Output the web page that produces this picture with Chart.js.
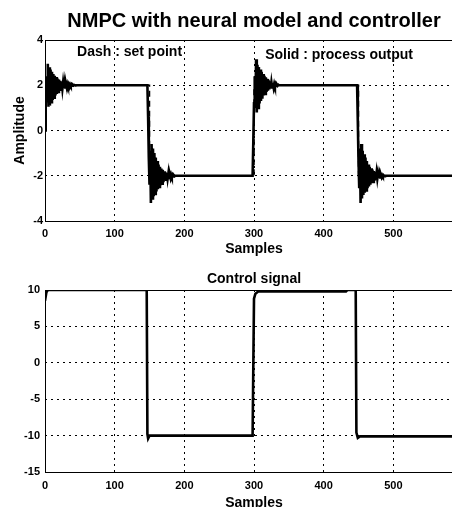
<!DOCTYPE html>
<html>
<head>
<meta charset="utf-8">
<script src="https://cdn.jsdelivr.net/npm/chart.js@4/dist/chart.umd.min.js"></script>
<style>
  html, body { margin: 0; padding: 0; background: #fff; overflow: hidden; width: 452px; height: 507px; }
  canvas { display: block; }
</style>
</head>
<body>
<canvas id="outChart" width="470" height="260"></canvas>
<canvas id="ctrlChart" width="470" height="260"></canvas>
<script>
// valores
const sampleTicks = [0, 100, 200, 300, 400, 500, 600];
const ampTicks = [-4, -2, 0, 2, 4];
const ctrlTicks = [-15, -10, -5, 0, 5, 10];

// set point (dash)
const spX = [0, 150, 150, 300, 300, 450, 450, 600];
const spY = [2, 2, -2, -2, 2, 2, -2, -2];

// salida del proceso: transitorios muestra a muestra
const outStarts = [0, 147, 298, 448];
const outRise1 = [0, 1.7, 2.4, 1.3, 2.95, 1.05, 2.8, 1.1, 2.7, 1.25, 2.6, 1.35, 2.5, 1.45, 2.42, 1.55, 2.36, 1.62, 2.3, 1.7,
  2.25, 1.75, 2.2, 1.8, 2.16, 1.85, 2.13, 1.88, 2.1, 1.9, 2.08, 1.93, 2.06, 1.95, 2.05, 1.96, 2.04, 1.97, 2.03, 1.98, 2.02, 1.99, 2.01, 2.0, 2.0];
const outFall1 = [2, 0.6, -1.2, -2.4, -0.9, -3.2, -0.6, -3.0, -0.8, -2.9, -1.0, -2.8, -1.2, -2.7, -1.35, -2.6, -1.5, -2.5, -1.6, -2.42,
  -1.68, -2.35, -1.74, -2.28, -1.8, -2.22, -1.85, -2.17, -1.88, -2.13, -1.91, -2.1, -1.93, -2.07, -1.95, -2.05, -1.97, -2.03, -1.98, -2.02, -2.0];
const outRise2 = [-2, -0.5, 1.2, 2.4, 1.0, 3.15, 0.8, 2.9, 1.0, 2.8, 1.2, 2.7, 1.3, 2.6, 1.4, 2.5, 1.55, 2.42, 1.62, 2.35,
  1.7, 2.28, 1.76, 2.22, 1.82, 2.17, 1.86, 2.13, 1.9, 2.1, 1.92, 2.07, 1.95, 2.05, 1.97, 2.03, 1.98, 2.02, 2.0];
const outFall2 = [2, 0.4, -1.3, -2.5, -0.8, -3.2, -0.6, -3.0, -0.9, -2.85, -1.05, -2.75, -1.2, -2.65, -1.35, -2.55, -1.5, -2.47, -1.6, -2.4,
  -1.67, -2.33, -1.73, -2.27, -1.79, -2.22, -1.84, -2.17, -1.87, -2.13, -1.9, -2.1, -1.93, -2.07, -1.95, -2.05, -1.97, -2.03, -1.98, -2.02, -2.0];
const outEnd = { x: 600, y: -2 };

// senal de control
const ctrlX = [0, 2, 4, 146, 147, 148, 150, 298, 300, 302, 306, 432, 434, 446, 447, 449, 452, 600];
const ctrlY = [8.5, 9.7, 10, 10, -9.8, -10.4, -10, -10, 8.8, 9.5, 9.8, 9.8, 10, 10, -9.6, -10.3, -10.1, -10.1];

const FONT = "'Liberation Sans', Arial, sans-serif";

function toPoints(xs, ys) {
  return xs.map((x, i) => ({ x, y: ys[i] }));
}

const outPoints = [];
[outRise1, outFall1, outRise2, outFall2].forEach((seg, k) => {
  seg.forEach((v, i) => outPoints.push({ x: outStarts[k] + i, y: v }));
});
outPoints.push(outEnd);

// marco del eje (como el box de matlab)
const framePlugin = {
  id: 'frame',
  afterDatasetsDraw(chart) {
    const a = chart.chartArea;
    const ctx = chart.ctx;
    ctx.save();
    ctx.strokeStyle = '#000';
    ctx.lineWidth = 1;
    ctx.strokeRect(a.left + 0.5, a.top + 0.5, a.right - a.left, a.bottom - a.top);
    ctx.restore();
  }
};

// textos dentro del grafico
const notesPlugin = {
  id: 'notes',
  afterDatasetsDraw(chart, args, opts) {
    if (!opts.items) return;
    const ctx = chart.ctx;
    const sx = chart.scales.x, sy = chart.scales.y;
    ctx.save();
    ctx.fillStyle = '#000';
    ctx.font = 'bold 14px ' + FONT;
    ctx.textBaseline = 'middle';
    opts.items.forEach(it => {
      ctx.fillText(it.text, sx.getPixelForValue(it.x), sy.getPixelForValue(it.y));
    });
    ctx.restore();
  }
};

function xScale(height, tickPad, titlePadBottom) {
  return {
    type: 'linear',
    min: 0,
    max: 600,
    afterBuildTicks: s => { s.ticks = sampleTicks.map(v => ({ value: v })); },
    afterFit: s => { s.height = height; s.paddingLeft = 0; s.paddingRight = 0; },
    grid: { color: '#000', lineWidth: 1, drawTicks: false },
    border: { display: false, dash: [2, 4] },
    ticks: { color: '#000', padding: tickPad, font: { family: FONT, size: 11, weight: 'bold' } },
    title: { display: true, text: 'Samples', color: '#000', padding: { top: 0, bottom: titlePadBottom },
      font: { family: FONT, size: 14, weight: 'bold' } }
  };
}

function yScale(min, max, ticks, tickPad, title) {
  return {
    min, max,
    afterBuildTicks: s => { s.ticks = ticks.map(v => ({ value: v })); },
    afterFit: s => { s.width = 45; s.paddingTop = 0; s.paddingBottom = 0; },
    grid: { color: '#000', lineWidth: 1, drawTicks: false },
    border: { display: false, dash: [2, 4] },
    ticks: { color: '#000', padding: tickPad, font: { family: FONT, size: 11, weight: 'bold' } },
    title: title ? { display: true, text: title, color: '#000', padding: { top: 11.6, bottom: 0 },
      font: { family: FONT, size: 14, weight: 'bold' } } : { display: false }
  };
}

new Chart(document.getElementById('outChart'), {
  type: 'line',
  data: {
    datasets: [
      { label: 'set point', data: toPoints(spX, spY), borderColor: '#000', borderWidth: 1.5, borderDash: [6, 4], pointRadius: 0, tension: 0 },
      { label: 'process output', data: outPoints, borderColor: '#000', borderWidth: 2.6, pointRadius: 0, tension: 0 }
    ]
  },
  options: {
    responsive: false,
    animation: false,
    layout: { padding: { left: 0, right: 7, top: 0, bottom: 0 } },
    scales: {
      x: xScale(39, 6, 2.6),
      y: yScale(-4, 4, ampTicks, 2, 'Amplitude')
    },
    plugins: {
      legend: { display: false },
      tooltip: { enabled: false },
      title: { display: true, text: 'NMPC with neural model and controller', color: '#000', fullSize: false,
        padding: { top: 9, bottom: 7 }, font: { family: FONT, size: 20, weight: 'bold' } },
      notes: { items: [
        { text: 'Dash : set point', x: 46, y: 3.45 },
        { text: 'Solid : process output', x: 316, y: 3.35 }
      ] }
    }
  },
  plugins: [framePlugin, notesPlugin]
});

new Chart(document.getElementById('ctrlChart'), {
  type: 'line',
  data: {
    datasets: [
      { label: 'control', data: toPoints(ctrlX, ctrlY), borderColor: '#000', borderWidth: 2.6, pointRadius: 0, tension: 0 }
    ]
  },
  options: {
    responsive: false,
    animation: false,
    layout: { padding: { left: 0, right: 7, top: 0, bottom: 0 } },
    scales: {
      x: xScale(48, 7.4, 8.6),
      y: yScale(-15, 10, ctrlTicks, 5, null)
    },
    plugins: {
      legend: { display: false },
      tooltip: { enabled: false },
      title: { display: true, text: 'Control signal', color: '#000', fullSize: false,
        padding: { top: 11, bottom: 2.2 }, font: { family: FONT, size: 14, weight: 'bold' } },
      notes: {}
    }
  },
  plugins: [framePlugin, notesPlugin]
});
</script>
</body>
</html>
